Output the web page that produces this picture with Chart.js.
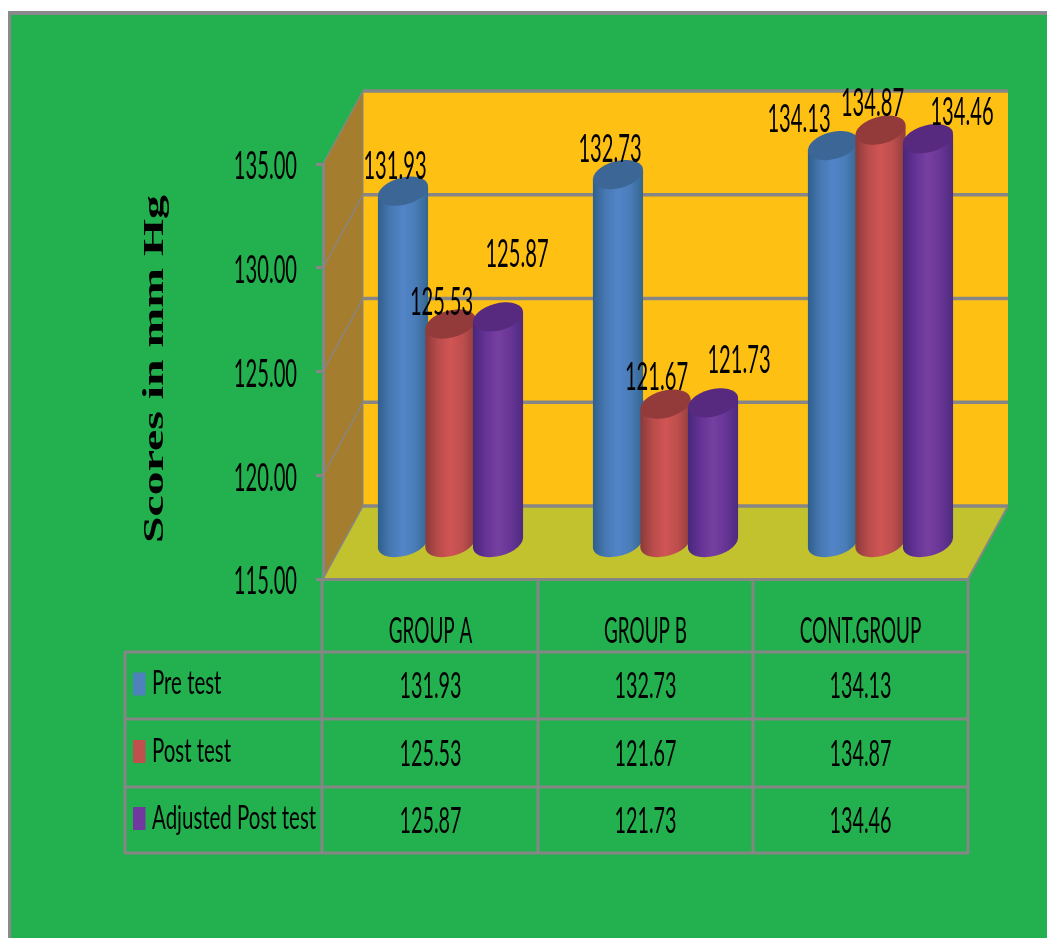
<!DOCTYPE html>
<html>
<head>
<meta charset="utf-8">
<title>Scores in mm Hg</title>
<script src="https://cdn.jsdelivr.net/npm/chart.js@4/dist/chart.umd.min.js"></script>
<style>
    html, body { margin: 0; padding: 0; background: #ffffff; }
    #frame {
        position: absolute; left: 8px; top: 11px; width: 1036px; height: 923px;
        background: #23b14f; border-top: 4px solid #8a8a8e; border-left: 3px solid #8a8a8e;
    }
    #chart-box { position: absolute; left: 0; top: 0; width: 1047px; height: 938px; }
</style>
</head>
<body>
<div id="frame"></div>
<div id="chart-box"><canvas id="scores-chart" width="1047" height="938"></canvas></div>
<script>
// --- datos ---
const groups = ['GROUP A', 'GROUP B', 'CONT.GROUP'];
const seriesNames = ['Pre test', 'Post test', 'Adjusted Post test'];
const preTest = [131.93, 132.73, 134.13];
const postTest = [125.53, 121.67, 134.87];
const adjustedPostTest = [125.87, 121.73, 134.46];
const axisTitle = 'Scores in mm Hg';

// --- estilo ---
const GRID = '#868686';
const DEPTH_X = 40, DEPTH_Y = 73;   // profundidad de la caja 3D
const LINE_Y = [652, 719, 787, 853];
const TABLE_LEFT = 125;
const FONT = 'Lato';

const seriesStyles = [
    { swatch: '#4f81bd', top: '#3b6695', stops: ['#2f5f8c', '#4778b3', '#5285c8', '#4a7cb8', '#356690'] },
    { swatch: '#c0504d', top: '#933a3b', stops: ['#8a3a3a', '#b84c4b', '#d05554', '#bd4e4d', '#8f3c3c'] },
    { swatch: '#7138a0', top: '#572a80', stops: ['#47277a', '#653296', '#7640a0', '#683596', '#4d2a7e'] }
];

// desplazamiento de cada etiqueta respecto a la parte alta de su cilindro
const labelShift = [
    [[-8, -24], [-8, -25], [-34, -26]],
    [[-9, -21], [-9, -26], [-8, -26]],
    [[19, -62], [26, -42], [34, -26]]
];

// Texto estrecho: la fuente se comprime en horizontal
function narrowText(ctx, text, x, y, size, squeeze, align) {
    ctx.save();
    ctx.font = size + 'px ' + FONT;
    ctx.fillStyle = '#000000';
    ctx.textBaseline = 'middle';
    ctx.textAlign = align || 'center';
    ctx.translate(x, y);
    ctx.scale(squeeze, 1);
    ctx.fillText(text, 0, 0);
    ctx.restore();
}

function line(ctx, x1, y1, x2, y2, width) {
    ctx.strokeStyle = GRID;
    ctx.lineWidth = width;
    ctx.beginPath();
    ctx.moveTo(x1, y1);
    ctx.lineTo(x2, y2);
    ctx.stroke();
}

function polygon(ctx, points, color) {
    ctx.fillStyle = color;
    ctx.beginPath();
    points.forEach((p, i) => (i ? ctx.lineTo(p[0], p[1]) : ctx.moveTo(p[0], p[1])));
    ctx.closePath();
    ctx.fill();
}

// Paredes, suelo y rejilla de la caja
const boxPlugin = {
    id: 'box3d',
    beforeDraw(chart) {
        const { ctx, chartArea: a, scales } = chart;
        const bx = a.left + DEPTH_X, rx = a.right + DEPTH_X;
        ctx.save();
        polygon(ctx, [[bx, a.top - DEPTH_Y], [rx, a.top - DEPTH_Y], [rx, a.bottom - DEPTH_Y], [bx, a.bottom - DEPTH_Y]], '#fec013');
        polygon(ctx, [[a.left, a.top], [bx, a.top - DEPTH_Y], [bx, a.bottom - DEPTH_Y], [a.left, a.bottom]], '#a57d2e');
        polygon(ctx, [[a.left, a.bottom], [bx, a.bottom - DEPTH_Y], [rx, a.bottom - DEPTH_Y], [a.right, a.bottom]], '#c2c22f');
        scales.y.ticks.forEach((t) => {
            const y = scales.y.getPixelForValue(t.value);
            line(ctx, bx, y - DEPTH_Y, rx, y - DEPTH_Y, 3.5);
            line(ctx, a.left, y, bx, y - DEPTH_Y, 1.5);
        });
        line(ctx, bx, a.top - DEPTH_Y, bx, a.bottom - DEPTH_Y, 1);
        line(ctx, a.right, a.bottom, rx, a.bottom - DEPTH_Y, 2);
        ctx.restore();
    }
};

// Cilindros construidos a partir de los elementos de barra del gráfico
const cylinderPlugin = {
    id: 'cylinders',
    afterDatasetsDraw(chart) {
        const ctx = chart.ctx;
        const tilt = -15 * Math.PI / 180;
        const floor = chart.chartArea.bottom;
        chart.data.datasets.forEach((ds, d) => {
            const style = seriesStyles[d];
            chart.getDatasetMeta(d).data.forEach((bar) => {
                const cx = bar.x + DEPTH_X / 2;
                const top = bar.y - DEPTH_Y / 2;
                const base = floor - DEPTH_Y / 2;
                const rx = bar.width / 2 * 1.03, ry = 13.5;
                const sin = Math.sin(tilt), cos = Math.cos(tilt);
                const hw = Math.sqrt(rx * rx * cos * cos + ry * ry * sin * sin);
                const dt = (rx * rx - ry * ry) * -sin * cos / hw;
                const grad = ctx.createLinearGradient(cx - hw, 0, cx + hw, 0);
                style.stops.forEach((c, i) => grad.addColorStop(i / (style.stops.length - 1), c));
                ctx.save();
                ctx.fillStyle = grad;
                ctx.beginPath();
                ctx.moveTo(cx - hw, top + dt);
                ctx.lineTo(cx + hw, top - dt);
                ctx.lineTo(cx + hw, base - dt);
                ctx.lineTo(cx - hw, base + dt);
                ctx.closePath();
                ctx.fill();
                ctx.beginPath();
                ctx.ellipse(cx, base, rx, ry, tilt, 0, Math.PI * 2);
                ctx.fill();
                ctx.fillStyle = style.top;
                ctx.beginPath();
                ctx.ellipse(cx, top, rx, ry, tilt, 0, Math.PI * 2);
                ctx.fill();
                ctx.restore();
            });
        });
    }
};

// Etiquetas de valores, ejes y tabla de datos
const textPlugin = {
    id: 'texts',
    afterDraw(chart) {
        const { ctx, chartArea: a, scales } = chart;

        chart.data.datasets.forEach((ds, d) => {
            chart.getDatasetMeta(d).data.forEach((bar, i) => {
                const s = labelShift[d][i];
                const x = bar.x + DEPTH_X / 2 + s[0];
                const y = bar.y - DEPTH_Y / 2 + s[1];
                narrowText(ctx, ds.data[i].toFixed(2), x, y, 38, 0.53);
            });
        });

        scales.y.ticks.forEach((t) => {
            narrowText(ctx, t.label, 297, scales.y.getPixelForValue(t.value) + 3, 38, 0.53, 'right');
        });

        // título del eje vertical
        ctx.save();
        ctx.font = 'bold 29px "Liberation Serif"';
        ctx.fillStyle = '#000000';
        ctx.textAlign = 'center';
        ctx.textBaseline = 'alphabetic';
        ctx.translate(163, 369);
        ctx.rotate(-Math.PI / 2);
        ctx.scale(348 / ctx.measureText(axisTitle).width, 1);
        ctx.fillText(axisTitle, 0, 0);
        ctx.restore();

        // rejilla de la tabla
        ctx.save();
        const edges = [a.left].concat(groups.map((g, i) => (scales.x.getPixelForTick(i) + (a.right - a.left) / groups.length / 2)));
        edges.forEach((x, i) => line(ctx, i ? x : x - 1, a.bottom, i ? x : x - 1, LINE_Y[3], 3));
        line(ctx, TABLE_LEFT, LINE_Y[0], TABLE_LEFT, LINE_Y[3], 3);
        LINE_Y.forEach((y) => line(ctx, TABLE_LEFT - 1, y, a.right + 1, y, 3));

        groups.forEach((g, i) => {
            narrowText(ctx, scales.x.ticks[i].label, scales.x.getPixelForTick(i), 631, 36, 0.525);
        });

        chart.data.datasets.forEach((ds, d) => {
            const midY = (LINE_Y[d] + LINE_Y[d + 1]) / 2;
            ctx.fillStyle = seriesStyles[d].swatch;
            ctx.fillRect(133, midY - 13, 12.5, 23);
            narrowText(ctx, seriesNames[d], 152, midY - 2, 33, 0.62, 'left');
            ds.data.forEach((v, i) => {
                narrowText(ctx, v.toFixed(2), scales.x.getPixelForTick(i), midY + 1, 36, 0.55);
            });
        });
        ctx.restore();
    }
};

function createScoresChart() {
    const ctx = document.getElementById('scores-chart').getContext('2d');
    const values = [preTest, postTest, adjustedPostTest];

    new Chart(ctx, {
        type: 'bar',
        data: {
            labels: groups,
            datasets: seriesNames.map((name, i) => ({
                label: name,
                data: values[i],
                backgroundColor: 'transparent',
                categoryPercentage: 0.663,
                barPercentage: 1.05
            }))
        },
        options: {
            responsive: false,
            animation: false,
            layout: { padding: { top: 164, right: 79, left: 0, bottom: 0 } },
            plugins: { legend: { display: false }, tooltip: { enabled: false } },
            scales: {
                x: {
                    afterFit(scale) { scale.height = 359; },
                    ticks: { display: false },
                    grid: { display: false },
                    border: { color: GRID, width: 3 }
                },
                y: {
                    min: 115,
                    max: 135,
                    afterFit(scale) { scale.width = 323; },
                    ticks: {
                        display: false,
                        stepSize: 5,
                        callback: function(value) { return value.toFixed(2); }
                    },
                    grid: { drawOnChartArea: false, tickLength: 7, tickColor: GRID, tickWidth: 3 },
                    border: { color: GRID, width: 3 }
                }
            }
        },
        plugins: [boxPlugin, cylinderPlugin, textPlugin]
    });
}

createScoresChart();
</script>
</body>
</html>
